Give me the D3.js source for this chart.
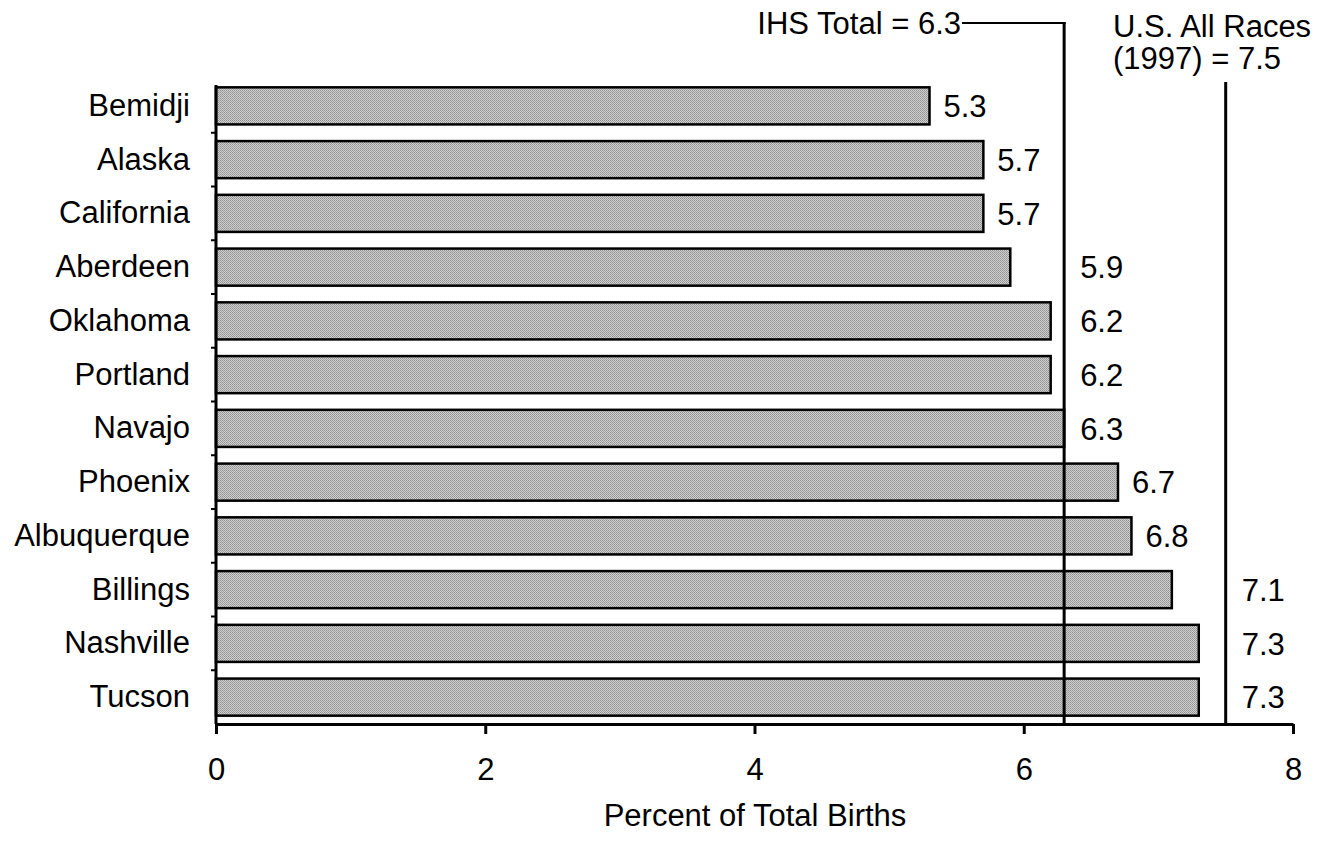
<!DOCTYPE html>
<html>
<head>
<meta charset="utf-8">
<script src="https://cdn.jsdelivr.net/npm/d3@7"></script>
<style>
  html, body { margin: 0; padding: 0; background: #fff; }
  svg text { font-family: "Liberation Sans", Arial, sans-serif; fill: #000; }
</style>
</head>
<body>
<svg id="chart" width="1328" height="856"></svg>
<script>
const categories = ["Bemidji", "Alaska", "California", "Aberdeen", "Oklahoma", "Portland",
  "Navajo", "Phoenix", "Albuquerque", "Billings", "Nashville", "Tucson"];
const values = [5.3, 5.7, 5.7, 5.9, 6.2, 6.2, 6.3, 6.7, 6.8, 7.1, 7.3, 7.3];
const xTicks = [0, 2, 4, 6, 8];
const refValues = [6.3, 7.5];
const refLabels = [["IHS Total = 6.3"], ["U.S. All Races", "(1997) = 7.5"]];
const xTitle = "Percent of Total Births";

const svg = d3.select("#chart");
const fs = 31;

const x = d3.scaleLinear().domain([0, 8]).range([216, 1293]);
const y = d3.scaleBand().domain(categories).range([79, 724]).paddingInner(0.31).paddingOuter(0.155);

// dither-like pattern
const defs = svg.append("defs");
const pat = defs.append("pattern").attr("id", "dither").attr("patternUnits", "userSpaceOnUse")
  .attr("width", 2).attr("height", 2);
pat.append("rect").attr("width", 2).attr("height", 2).attr("fill", "#d0d0d0");
pat.append("rect").attr("width", 1).attr("height", 1).attr("fill", "#909090");
pat.append("rect").attr("x", 1).attr("y", 1).attr("width", 1).attr("height", 1).attr("fill", "#a0a0a0");

// bars
svg.append("g").selectAll("rect").data(categories).join("rect")
  .attr("x", x(0))
  .attr("y", d => y(d))
  .attr("width", (d, i) => x(values[i]) - x(0))
  .attr("height", y.bandwidth())
  .attr("fill", "url(#dither)")
  .attr("stroke", "#000")
  .attr("stroke-width", 2.5);

// reference lines
const yBottom = 724;
svg.append("line").attr("x1", x(refValues[0])).attr("x2", x(refValues[0]))
  .attr("y1", 22).attr("y2", yBottom).attr("stroke", "#000").attr("stroke-width", 3);
svg.append("line").attr("x1", 962).attr("x2", x(refValues[0]) + 1.5)
  .attr("y1", 23).attr("y2", 23).attr("stroke", "#000").attr("stroke-width", 2);
svg.append("text").attr("x", 961).attr("y", 34).attr("text-anchor", "end")
  .style("font-size", fs + "px").text(refLabels[0][0]);

svg.append("line").attr("x1", x(refValues[1])).attr("x2", x(refValues[1]))
  .attr("y1", 82).attr("y2", yBottom).attr("stroke", "#000").attr("stroke-width", 3);
svg.append("g").selectAll("text").data(refLabels[1]).join("text")
  .attr("x", 1113).attr("y", (d, i) => 37 + i * 32)
  .style("font-size", fs + "px").text(d => d);

// value labels
const refX = refValues.map(v => x(v));
function labelX(v) {
  const end = x(v);
  let lx = end + 14;
  refX.forEach(rx => {
    if (end <= rx + 1 && end + 57 > rx) lx = Math.max(lx, rx + 16);
  });
  return lx;
}
svg.append("g").selectAll("text").data(categories).join("text")
  .attr("x", (d, i) => labelX(values[i]))
  .attr("y", d => y(d) + y.bandwidth() / 2)
  .attr("dy", "0.36em")
  .style("font-size", fs + "px")
  .text((d, i) => values[i].toFixed(1));

// x axis
const xAxis = svg.append("g").attr("transform", `translate(0,${yBottom})`)
  .call(d3.axisBottom(x).tickValues(xTicks).tickFormat(d3.format("d")).tickSizeInner(10).tickSizeOuter(0).tickPadding(24));
xAxis.select(".domain").attr("stroke", "#000").attr("stroke-width", 3);
xAxis.selectAll(".tick line").attr("stroke", "#000").attr("stroke-width", 3);
xAxis.selectAll(".tick text").style("font-size", fs + "px").attr("fill", "#000")
  .style("font-family", '"Liberation Sans", Arial, sans-serif');

// y axis
const yAxis = svg.append("g").attr("transform", `translate(${x(0)},0)`)
  .call(d3.axisLeft(y).tickSize(0).tickPadding(26));
yAxis.select(".domain").attr("stroke", "#000").attr("stroke-width", 3)
  .attr("d", `M0,85V${yBottom}`);
yAxis.selectAll(".tick text").style("font-size", fs + "px").attr("fill", "#000")
  .style("font-family", '"Liberation Sans", Arial, sans-serif');
// small category separator ticks
const step = y.step();
const bounds = categories.slice(1).map(c => y(c) - (step - y.bandwidth()) / 2);
svg.append("g").selectAll("line").data(bounds).join("line")
  .attr("x1", x(0) - 5).attr("x2", x(0))
  .attr("y1", d => d).attr("y2", d => d)
  .attr("stroke", "#000").attr("stroke-width", 2);

// x title
svg.append("text").attr("x", 755).attr("y", 826).attr("text-anchor", "middle")
  .style("font-size", fs + "px").text(xTitle);
</script>
</body>
</html>
